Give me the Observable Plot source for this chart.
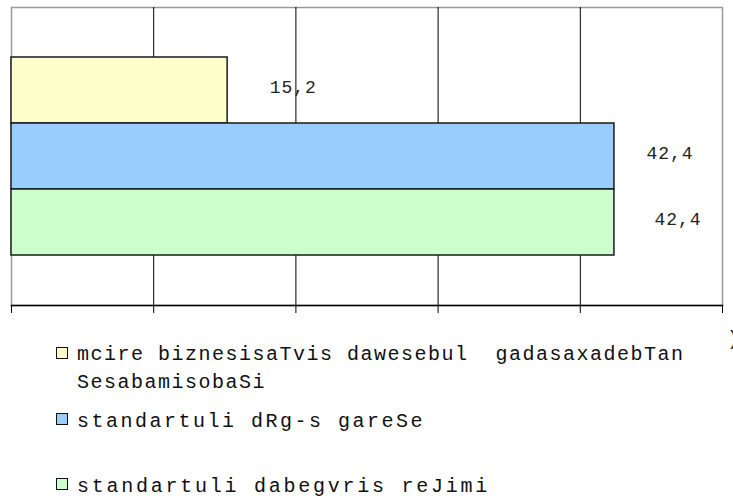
<!DOCTYPE html>
<html>
<head>
<meta charset="utf-8">
<script src="https://cdn.jsdelivr.net/npm/d3@7"></script>
<script src="https://cdn.jsdelivr.net/npm/@observablehq/plot@0.6"></script>
<style>
  html, body { margin: 0; padding: 0; background: #fff; }
  #wrap { position: relative; width: 733px; height: 499px; overflow: hidden; }
  #legend { position: absolute; left: 0; top: 320px; width: 733px; height: 179px;
            font-family: "Liberation Mono", "DejaVu Sans Mono", monospace; font-size: 20px;
            color: #111; }
  .sw { position: absolute; left: 56px; width: 10px; height: 10px; border: 1.5px solid #111; }
  .lt { position: absolute; left: 77px; line-height: 28px; white-space: pre; }
</style>
</head>
<body>
<div id="wrap">
  <div id="chart"></div>
  <div id="legend"></div>
</div>
<script>
const categories = [
  "mcire biznesisaTvis dawesebul  gadasaxadebTan\nSesabamisobaSi",
  "standartuli dRg-s gareSe",
  "standartuli dabegvris reJimi"
];
const values = [15.2, 42.4, 42.4];
const colors = ["#FFFFCC", "#99CCFF", "#CCFFCC"];
const xTicks = [0, 10, 20, 30, 40, 50];
const gridValues = [10, 20, 30, 40];

const data = categories.map((c, i) => ({cat: c, value: values[i]}));
const fmt = v => d3.format(".1f")(v).replace(".", ",");
const labelDx = [42, 32, 40];

const chart = Plot.plot({
  width: 733,
  height: 320,
  marginLeft: 11,
  marginRight: 11,
  marginTop: 7,
  marginBottom: 15,
  x: {domain: [0, 50], label: null},
  y: {domain: categories, paddingInner: 0, paddingOuter: 0.75, axis: null},
  color: {domain: categories, range: colors},
  marks: [
    Plot.frame({stroke: "#9a9a9a", strokeWidth: 1.5}),
    Plot.ruleX(gridValues, {stroke: "#000", strokeWidth: 1}),
    Plot.barX(data, {x: "value", y: "cat", fill: "cat", stroke: "#1a1a1a", strokeWidth: 1.5}),
    Plot.frame({anchor: "bottom", stroke: "#000", strokeWidth: 1.5}),
    Plot.axisX({ticks: xTicks, tickFormat: () => "", tickSize: 8, stroke: "#000", strokeWidth: 1, label: null}),
    ...data.map((d, i) => Plot.text([d], {
      x: "value", y: "cat", text: r => fmt(r.value), textAnchor: "start",
      dx: labelDx[i], dy: -3, fontSize: 18, fill: "#222",
      fontFamily: "Liberation Mono, DejaVu Sans Mono, monospace"
    }))
  ]
});
chart.querySelectorAll("text").forEach(t => {
  if (t.textContent.includes(",")) t.setAttribute("letter-spacing", "1");
});
document.getElementById("chart").appendChild(chart);

const legend = document.getElementById("legend");
const swTops = [27, 93, 158];
const txTops = [21, 88, 153];
const spacing = [1.5, 2.5, 2.75];
categories.forEach((c, i) => {
  const sw = document.createElement("div");
  sw.className = "sw";
  sw.style.top = swTops[i] + "px";
  sw.style.background = colors[i];
  legend.appendChild(sw);
  const tx = document.createElement("div");
  tx.className = "lt";
  tx.style.top = txTops[i] + "px";
  tx.style.letterSpacing = spacing[i] + "px";
  tx.textContent = c;
  legend.appendChild(tx);
});
const edge = document.createElement("div");
edge.className = "lt";
edge.style.left = "727px";
edge.style.top = "6px";
edge.textContent = ")";
legend.appendChild(edge);
</script>
</body>
</html>
